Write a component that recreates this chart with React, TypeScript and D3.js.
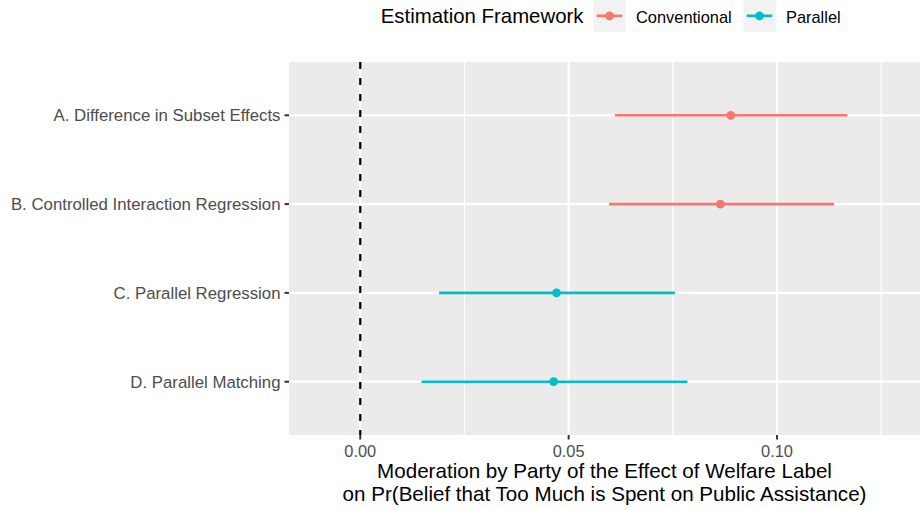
import React from "react";
import * as d3 from "d3";

const methods = [
  "A. Difference in Subset Effects",
  "B. Controlled Interaction Regression",
  "C. Parallel Regression",
  "D. Parallel Matching",
];
const frameworks = ["Conventional", "Conventional", "Parallel", "Parallel"];
const estimates = [0.0889, 0.0864, 0.0471, 0.0464];
const lower = [0.0611, 0.0597, 0.0189, 0.0147];
const upper = [0.1169, 0.1137, 0.0755, 0.0785];

const legendLevels = ["Conventional", "Parallel"];
const legendColors = ["#F8766D", "#00BFC4"];
const majorTicks = [0, 0.05, 0.1];
const minorTicks = [-0.025, 0.025, 0.075, 0.125];
const xDomain = [-0.0171, 0.1343];
const legendTitle = "Estimation Framework";
const xTitle = [
  "Moderation by Party of the Effect of Welfare Label",
  "on Pr(Belief that Too Much is Spent on Public Assistance)",
];

const W = 920;
const H = 510;
const panel = { left: 289, right: 920, top: 62, bottom: 435 };
const FONT = "'Liberation Sans', Arial, Helvetica, sans-serif";

export default function App() {
  const x = d3.scaleLinear().domain(xDomain).range([panel.left, panel.right]);
  const y = d3
    .scalePoint<string>()
    .domain(methods)
    .range([panel.top, panel.bottom])
    .padding(0.6);
  const color = d3.scaleOrdinal<string, string>().domain(legendLevels).range(legendColors);
  const fmt = d3.format(".2f");
  const inPanel = (v: number) => x(v) >= panel.left && x(v) <= panel.right;

  const keyBoxes = [593.3, 743.3];
  const keyLabelsX = [636, 786];

  return (
    <svg
      width={W}
      height={H}
      style={{ position: "absolute", left: 0, top: 0, background: "#fff" }}
      fontFamily={FONT}
    >
      <defs>
        <clipPath id="panelClip">
          <rect x={panel.left} y={panel.top} width={panel.right - panel.left} height={panel.bottom - panel.top} />
        </clipPath>
      </defs>
      {/* panel */}
      <rect
        x={panel.left}
        y={panel.top}
        width={panel.right - panel.left}
        height={panel.bottom - panel.top}
        fill="#EBEBEB"
      />
      <g clipPath="url(#panelClip)">
        {minorTicks.filter(inPanel).map((t) => (
          <line key={"mi" + t} x1={x(t)} x2={x(t)} y1={panel.top} y2={panel.bottom} stroke="#fff" strokeWidth={1.2} />
        ))}
        {majorTicks.map((t) => (
          <line key={"ma" + t} x1={x(t)} x2={x(t)} y1={panel.top} y2={panel.bottom} stroke="#fff" strokeWidth={2.2} />
        ))}
        {methods.map((m) => (
          <line key={"h" + m} x1={panel.left} x2={panel.right} y1={y(m)} y2={y(m)} stroke="#fff" strokeWidth={2.2} />
        ))}
        {/* reference line */}
        <line
          x1={x(0)}
          x2={x(0)}
          y1={panel.top}
          y2={panel.bottom}
          stroke="#000"
          strokeWidth={2.2}
          strokeDasharray="7,9"
        />
        {methods.map((m, i) => (
          <g key={"pr" + m}>
            <line
              x1={x(lower[i])}
              x2={x(upper[i])}
              y1={y(m)}
              y2={y(m)}
              stroke={color(frameworks[i])}
              strokeWidth={2.6}
            />
            <circle cx={x(estimates[i])} cy={y(m)} r={4.4} fill={color(frameworks[i])} />
          </g>
        ))}
      </g>
      {/* y axis */}
      {methods.map((m) => (
        <g key={"yt" + m}>
          <line x1={panel.left - 4.5} x2={panel.left} y1={y(m)} y2={y(m)} stroke="#333" strokeWidth={2} />
          <text
            x={panel.left - 8.5}
            y={(y(m) as number) + 5.9}
            textAnchor="end"
            fontSize={16.8}
            fill="#4D4D4D"
          >
            {m}
          </text>
        </g>
      ))}
      {/* x axis */}
      {majorTicks.map((t) => (
        <g key={"xt" + t}>
          <line x1={x(t)} x2={x(t)} y1={panel.bottom} y2={panel.bottom + 4.5} stroke="#333" strokeWidth={2} />
          <text x={x(t)} y={456.5} textAnchor="middle" fontSize={16.4} fill="#4D4D4D">
            {fmt(t)}
          </text>
        </g>
      ))}
      {xTitle.map((s, i) => (
        <text
          key={"xtitle" + i}
          x={(panel.left + panel.right) / 2}
          y={478 + i * 23}
          textAnchor="middle"
          fontSize={20.6}
          fill="#000"
        >
          {s}
        </text>
      ))}
      {/* legend */}
      <text x={380.7} y={23.3} fontSize={20.4} fill="#000">
        {legendTitle}
      </text>
      {legendLevels.map((lv, i) => (
        <g key={"lg" + lv}>
          <rect x={keyBoxes[i]} y={0} width={32.4} height={31.7} fill="#F2F2F2" />
          <line
            x1={keyBoxes[i] + 3.4}
            x2={keyBoxes[i] + 29}
            y1={15.8}
            y2={15.8}
            stroke={color(lv)}
            strokeWidth={2.6}
          />
          <circle cx={keyBoxes[i] + 16.2} cy={15.8} r={4.4} fill={color(lv)} />
          <text x={keyLabelsX[i]} y={22.5} fontSize={16.4} fill="#000">
            {lv}
          </text>
        </g>
      ))}
    </svg>
  );
}
